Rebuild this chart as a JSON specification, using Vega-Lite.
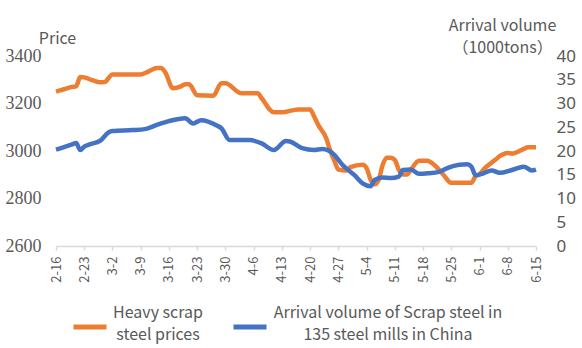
{
  "$schema": "https://vega.github.io/schema/vega-lite/v6.json",
  "width": 480,
  "height": 190,
  "autosize": {"type": "none"},
  "padding": {"left": 56, "top": 56, "right": 46, "bottom": 102},
  "background": "white",
  "config": {"view": {"stroke": null}, "font": "Noto Sans CJK SC", "axisX": {"labelOverlap": false}},
  "datasets": {
    "price": [
      {"date": "2021-02-16", "price": 3250}, {"date": "2021-02-18", "price": 3260}, {"date": "2021-02-20", "price": 3270},
      {"date": "2021-02-21", "price": 3272}, {"date": "2021-02-22", "price": 3312}, {"date": "2021-02-23", "price": 3310},
      {"date": "2021-02-25", "price": 3298}, {"date": "2021-02-27", "price": 3289}, {"date": "2021-02-28", "price": 3290},
      {"date": "2021-03-02", "price": 3322}, {"date": "2021-03-05", "price": 3322}, {"date": "2021-03-09", "price": 3322},
      {"date": "2021-03-11", "price": 3335}, {"date": "2021-03-13", "price": 3350}, {"date": "2021-03-14", "price": 3350},
      {"date": "2021-03-15", "price": 3334}, {"date": "2021-03-17", "price": 3264}, {"date": "2021-03-19", "price": 3272},
      {"date": "2021-03-20", "price": 3281}, {"date": "2021-03-21", "price": 3281}, {"date": "2021-03-23", "price": 3235},
      {"date": "2021-03-27", "price": 3233}, {"date": "2021-03-29", "price": 3285}, {"date": "2021-03-30", "price": 3285},
      {"date": "2021-04-03", "price": 3243}, {"date": "2021-04-07", "price": 3243}, {"date": "2021-04-08", "price": 3222},
      {"date": "2021-04-11", "price": 3163}, {"date": "2021-04-13", "price": 3163}, {"date": "2021-04-17", "price": 3175},
      {"date": "2021-04-20", "price": 3175}, {"date": "2021-04-21", "price": 3145}, {"date": "2021-04-22", "price": 3110},
      {"date": "2021-04-24", "price": 3054}, {"date": "2021-04-25", "price": 3000}, {"date": "2021-04-26", "price": 2960},
      {"date": "2021-04-27", "price": 2922}, {"date": "2021-04-29", "price": 2918}, {"date": "2021-04-30", "price": 2932},
      {"date": "2021-05-03", "price": 2942}, {"date": "2021-05-04", "price": 2928}, {"date": "2021-05-05", "price": 2879},
      {"date": "2021-05-06", "price": 2860}, {"date": "2021-05-07", "price": 2879}, {"date": "2021-05-08", "price": 2942},
      {"date": "2021-05-09", "price": 2972}, {"date": "2021-05-10", "price": 2972}, {"date": "2021-05-11", "price": 2962},
      {"date": "2021-05-12", "price": 2920}, {"date": "2021-05-13", "price": 2901}, {"date": "2021-05-14", "price": 2901},
      {"date": "2021-05-15", "price": 2922}, {"date": "2021-05-17", "price": 2959}, {"date": "2021-05-19", "price": 2959},
      {"date": "2021-05-21", "price": 2938}, {"date": "2021-05-23", "price": 2901}, {"date": "2021-05-25", "price": 2866},
      {"date": "2021-05-30", "price": 2866}, {"date": "2021-05-31", "price": 2894}, {"date": "2021-06-01", "price": 2901},
      {"date": "2021-06-02", "price": 2922}, {"date": "2021-06-05", "price": 2964}, {"date": "2021-06-06", "price": 2978},
      {"date": "2021-06-08", "price": 2992}, {"date": "2021-06-09", "price": 2989}, {"date": "2021-06-12", "price": 3009},
      {"date": "2021-06-13", "price": 3016}, {"date": "2021-06-15", "price": 3016}
    ],
    "volume": [
      {"date": "2021-02-16", "volume": 20.3}, {"date": "2021-02-20", "volume": 21.4}, {"date": "2021-02-21", "volume": 21.7},
      {"date": "2021-02-22", "volume": 20.2}, {"date": "2021-02-23", "volume": 20.9}, {"date": "2021-02-24", "volume": 21.3},
      {"date": "2021-02-27", "volume": 22.2}, {"date": "2021-03-01", "volume": 23.9}, {"date": "2021-03-02", "volume": 24.2},
      {"date": "2021-03-07", "volume": 24.4}, {"date": "2021-03-10", "volume": 24.6}, {"date": "2021-03-13", "volume": 25.5},
      {"date": "2021-03-16", "volume": 26.3}, {"date": "2021-03-20", "volume": 26.9}, {"date": "2021-03-22", "volume": 25.8},
      {"date": "2021-03-24", "volume": 26.5}, {"date": "2021-03-28", "volume": 25.3}, {"date": "2021-03-29", "volume": 24.8},
      {"date": "2021-03-31", "volume": 22.3}, {"date": "2021-04-05", "volume": 22.3}, {"date": "2021-04-08", "volume": 21.6},
      {"date": "2021-04-11", "volume": 20.2}, {"date": "2021-04-14", "volume": 22.1}, {"date": "2021-04-15", "volume": 22.0},
      {"date": "2021-04-18", "volume": 20.6}, {"date": "2021-04-21", "volume": 20.2}, {"date": "2021-04-23", "volume": 20.4},
      {"date": "2021-04-26", "volume": 19.2}, {"date": "2021-04-28", "volume": 17.1}, {"date": "2021-05-01", "volume": 14.9},
      {"date": "2021-05-03", "volume": 13.2}, {"date": "2021-05-05", "volume": 12.6}, {"date": "2021-05-06", "volume": 13.9},
      {"date": "2021-05-08", "volume": 14.4}, {"date": "2021-05-10", "volume": 14.3}, {"date": "2021-05-12", "volume": 14.6},
      {"date": "2021-05-13", "volume": 16.0}, {"date": "2021-05-15", "volume": 16.1}, {"date": "2021-05-17", "volume": 15.2},
      {"date": "2021-05-19", "volume": 15.3}, {"date": "2021-05-22", "volume": 15.6}, {"date": "2021-05-24", "volume": 16.4},
      {"date": "2021-05-27", "volume": 17.1}, {"date": "2021-05-29", "volume": 17.2}, {"date": "2021-05-30", "volume": 16.7},
      {"date": "2021-05-31", "volume": 14.9}, {"date": "2021-06-02", "volume": 15.3}, {"date": "2021-06-04", "volume": 15.9},
      {"date": "2021-06-06", "volume": 15.4}, {"date": "2021-06-09", "volume": 16.0}, {"date": "2021-06-12", "volume": 16.7},
      {"date": "2021-06-14", "volume": 15.9}, {"date": "2021-06-15", "volume": 16.1}
    ]
  },
  "encoding": {
    "x": {
      "field": "date", "type": "temporal",
      "scale": {"type": "utc", "domain": [{"year": 2021, "month": 2, "date": 16, "utc": true}, {"year": 2021, "month": 6, "date": 15, "utc": true}]},
      "axis": {
        "values": [
          {"year": 2021, "month": 2, "date": 16, "utc": true}, {"year": 2021, "month": 2, "date": 23, "utc": true},
          {"year": 2021, "month": 3, "date": 2, "utc": true}, {"year": 2021, "month": 3, "date": 9, "utc": true},
          {"year": 2021, "month": 3, "date": 16, "utc": true}, {"year": 2021, "month": 3, "date": 23, "utc": true},
          {"year": 2021, "month": 3, "date": 30, "utc": true}, {"year": 2021, "month": 4, "date": 6, "utc": true},
          {"year": 2021, "month": 4, "date": 13, "utc": true}, {"year": 2021, "month": 4, "date": 20, "utc": true},
          {"year": 2021, "month": 4, "date": 27, "utc": true}, {"year": 2021, "month": 5, "date": 4, "utc": true},
          {"year": 2021, "month": 5, "date": 11, "utc": true}, {"year": 2021, "month": 5, "date": 18, "utc": true},
          {"year": 2021, "month": 5, "date": 25, "utc": true}, {"year": 2021, "month": 6, "date": 1, "utc": true},
          {"year": 2021, "month": 6, "date": 8, "utc": true}, {"year": 2021, "month": 6, "date": 15, "utc": true}
        ],
        "format": "%-m-%-d",
        "labelAngle": -90,
        "labelOverlap": false,
        "labelFlush": false,
        "labelFont": "Noto Sans CJK SC",
        "labelFontSize": 13,
        "labelColor": "#595959",
        "labelPadding": 6,
        "domainColor": "#D9D9D9",
        "domainWidth": 1.5,
        "tickColor": "#D9D9D9",
        "tickWidth": 1.5,
        "tickSize": 4,
        "grid": false,
        "title": null
      }
    }
  },
  "layer": [
    {
      "data": {"name": "price"},
      "mark": {"type": "line", "strokeWidth": 4.5, "interpolate": "monotone"},
      "encoding": {
        "y": {
          "field": "price", "type": "quantitative",
          "scale": {"domain": [2600, 3400], "nice": false, "zero": false},
          "axis": {
            "values": [2600, 2800, 3000, 3200, 3400],
            "format": "d",
            "title": "Price",
            "titleAngle": 0,
            "titleX": 1,
            "titleY": -13,
            "titleAlign": "center",
            "titleBaseline": "alphabetic",
            "titleFont": "Noto Sans CJK SC",
            "titleFontSize": 16,
            "titleFontWeight": "normal",
            "titleColor": "#595959",
            "labelFont": "Liberation Serif",
            "labelFontSize": 18,
            "labelColor": "#595959",
            "labelPadding": 15,
            "domain": false,
            "ticks": false,
            "grid": false
          }
        },
        "color": {
          "datum": "Heavy scrap steel prices", "type": "nominal",
          "scale": {"domain": ["Heavy scrap steel prices", "Arrival volume of Scrap steel in 135 steel mills in China"], "range": ["#ED7D31", "#4472C4"]},
          "legend": {
            "orient": "none",
            "legendX": 15,
            "legendY": 252,
            "direction": "horizontal",
            "title": null,
            "symbolType": "stroke",
            "symbolSize": 1089,
            "symbolStrokeWidth": 5,
            "labelFont": "Noto Sans CJK SC",
            "labelFontSize": 16,
            "labelColor": "#595959",
            "labelLimit": 400,
            "labelOffset": 3,
            "labelAlign": "center",
            "columnPadding": 20,
            "labelExpr": "datum.label == 'Heavy scrap steel prices' ? ['Heavy scrap', 'steel prices'] : ['Arrival volume of Scrap steel in', '135 steel mills in China']",
            "encode": {
              "labels": {
                "update": {
                  "lineHeight": {"value": 22},
                  "dy": {"value": -14},
                  "dx": {"signal": "datum.value == 'Heavy scrap steel prices' ? 46 : 116"}
                }
              }
            }
          }
        }
      }
    },
    {
      "data": {"name": "volume"},
      "mark": {"type": "line", "strokeWidth": 4.5, "interpolate": "monotone"},
      "encoding": {
        "y": {
          "field": "volume", "type": "quantitative",
          "scale": {"domain": [0, 40], "nice": false},
          "axis": {
            "orient": "right",
            "values": [0, 5, 10, 15, 20, 25, 30, 35, 40],
            "title": ["Arrival volume", "（1000tons）"],
            "titleAngle": 0,
            "titleX": -34,
            "titleY": -26,
            "titleAlign": "center",
            "titleBaseline": "alphabetic",
            "titleLineHeight": 22,
            "titleFont": "Noto Sans CJK SC",
            "titleFontSize": 16,
            "titleFontWeight": "normal",
            "titleColor": "#595959",
            "labelFont": "Noto Sans",
            "labelFontSize": 17,
            "labelColor": "#595959",
            "labelPadding": 20,
            "domain": false,
            "ticks": false,
            "grid": false
          }
        },
        "color": {"datum": "Arrival volume of Scrap steel in 135 steel mills in China", "type": "nominal"}
      }
    }
  ],
  "resolve": {"scale": {"y": "independent"}}
}
